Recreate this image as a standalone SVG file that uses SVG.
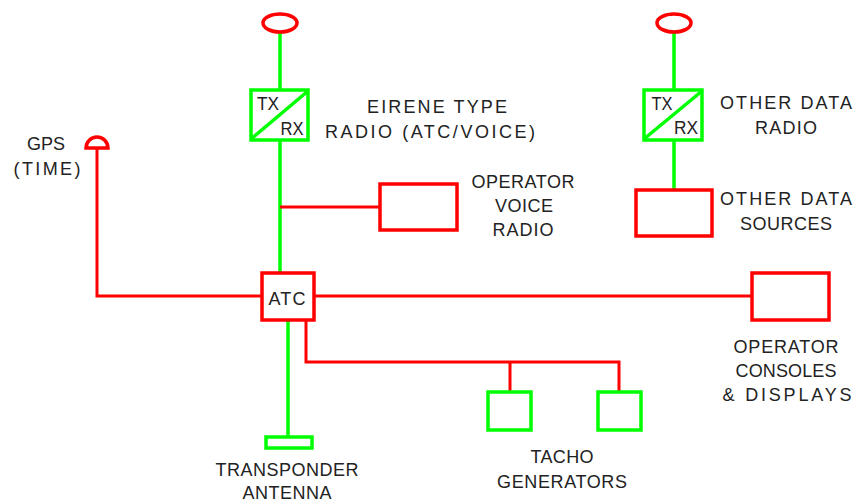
<svg xmlns="http://www.w3.org/2000/svg" width="857" height="504" viewBox="0 0 857 504">
<style>
.r{fill:none;stroke:#ff0000;stroke-width:3.5}
.g{fill:none;stroke:#00ff00;stroke-width:3.5}
.rl{fill:none;stroke:#ff0000;stroke-width:3}
.gl{fill:none;stroke:#00ff00;stroke-width:3.5}
text{font-family:"Liberation Sans",Arial,sans-serif;font-size:18px;fill:#222222;text-anchor:middle}
</style>
<rect width="857" height="504" fill="#ffffff"/>
<g id="connectors">
<path class="gl" d="M280,32V90M280,140V273"/>
<path class="rl" d="M280,207H380"/>
<path class="rl" d="M97,148V296H262"/>
<path class="rl" d="M314,296H752"/>
<path class="gl" d="M288,320V437"/>
<path class="rl" d="M306,320V362H619V392M510,362V392"/>
<path class="gl" d="M674,32V90M674,140V190"/>
</g>
<g id="eirene-antenna"><ellipse class="r" cx="280" cy="23" rx="17" ry="9"/></g>
<g id="eirene-radio">
<rect class="g" x="251" y="90" width="57" height="50"/>
<path class="g" d="M251,139L308,91"/>
<text x="268" y="110" textLength="22" lengthAdjust="spacingAndGlyphs">TX</text>
<text x="292" y="135" textLength="23" lengthAdjust="spacingAndGlyphs">RX</text>
<text x="437" y="113" textLength="140" lengthAdjust="spacing">EIRENE TYPE</text>
<text x="430" y="138" textLength="210" lengthAdjust="spacing">RADIO (ATC/VOICE)</text>
</g>
<g id="operator-voice-radio">
<rect class="r" x="380" y="184" width="77" height="46"/>
<text x="523" y="188" textLength="103" lengthAdjust="spacing">OPERATOR</text>
<text x="524" y="212" textLength="58" lengthAdjust="spacing">VOICE</text>
<text x="523" y="236" textLength="61" lengthAdjust="spacing">RADIO</text>
</g>
<g id="gps">
<path class="r" d="M86,148A11,11 0 0 1 108,148Z"/>
<text x="46" y="150" textLength="38" lengthAdjust="spacing">GPS</text>
<text x="47" y="175" textLength="67" lengthAdjust="spacing">(TIME)</text>
</g>
<g id="atc">
<rect class="r" x="262" y="273" width="52" height="47"/>
<text x="287" y="305" textLength="37" lengthAdjust="spacing">ATC</text>
</g>
<g id="operator-consoles">
<rect class="r" x="752" y="273" width="77" height="47"/>
<text x="786" y="353" textLength="105" lengthAdjust="spacing">OPERATOR</text>
<text x="786" y="377" textLength="101" lengthAdjust="spacing">CONSOLES</text>
<text x="787" y="401" textLength="129" lengthAdjust="spacing">&amp; DISPLAYS</text>
</g>
<g id="transponder-antenna">
<rect class="g" x="266" y="437" width="46" height="11"/>
<text x="287" y="476" textLength="143" lengthAdjust="spacing">TRANSPONDER</text>
<text x="287" y="499" textLength="89" lengthAdjust="spacing">ANTENNA</text>
</g>
<g id="tacho-1"><rect class="g" x="488" y="392" width="43" height="38"/></g>
<g id="tacho-2"><rect class="g" x="598" y="392" width="43" height="38"/></g>
<g id="tacho-label">
<text x="562" y="463" textLength="63" lengthAdjust="spacing">TACHO</text>
<text x="562" y="488" textLength="130" lengthAdjust="spacing">GENERATORS</text>
</g>
<g id="other-antenna"><ellipse class="r" cx="674" cy="23" rx="17" ry="9"/></g>
<g id="other-data-radio">
<rect class="g" x="644" y="90" width="58" height="50"/>
<path class="g" d="M644,139L702,91"/>
<text x="662" y="110" textLength="21" lengthAdjust="spacingAndGlyphs">TX</text>
<text x="686" y="134" textLength="24" lengthAdjust="spacingAndGlyphs">RX</text>
<text x="786" y="109" textLength="132" lengthAdjust="spacing">OTHER DATA</text>
<text x="786" y="134" textLength="62" lengthAdjust="spacing">RADIO</text>
</g>
<g id="other-data-sources">
<rect class="r" x="636" y="190" width="76" height="46"/>
<text x="786" y="205" textLength="132" lengthAdjust="spacing">OTHER DATA</text>
<text x="786" y="230" textLength="92" lengthAdjust="spacing">SOURCES</text>
</g>
</svg>
